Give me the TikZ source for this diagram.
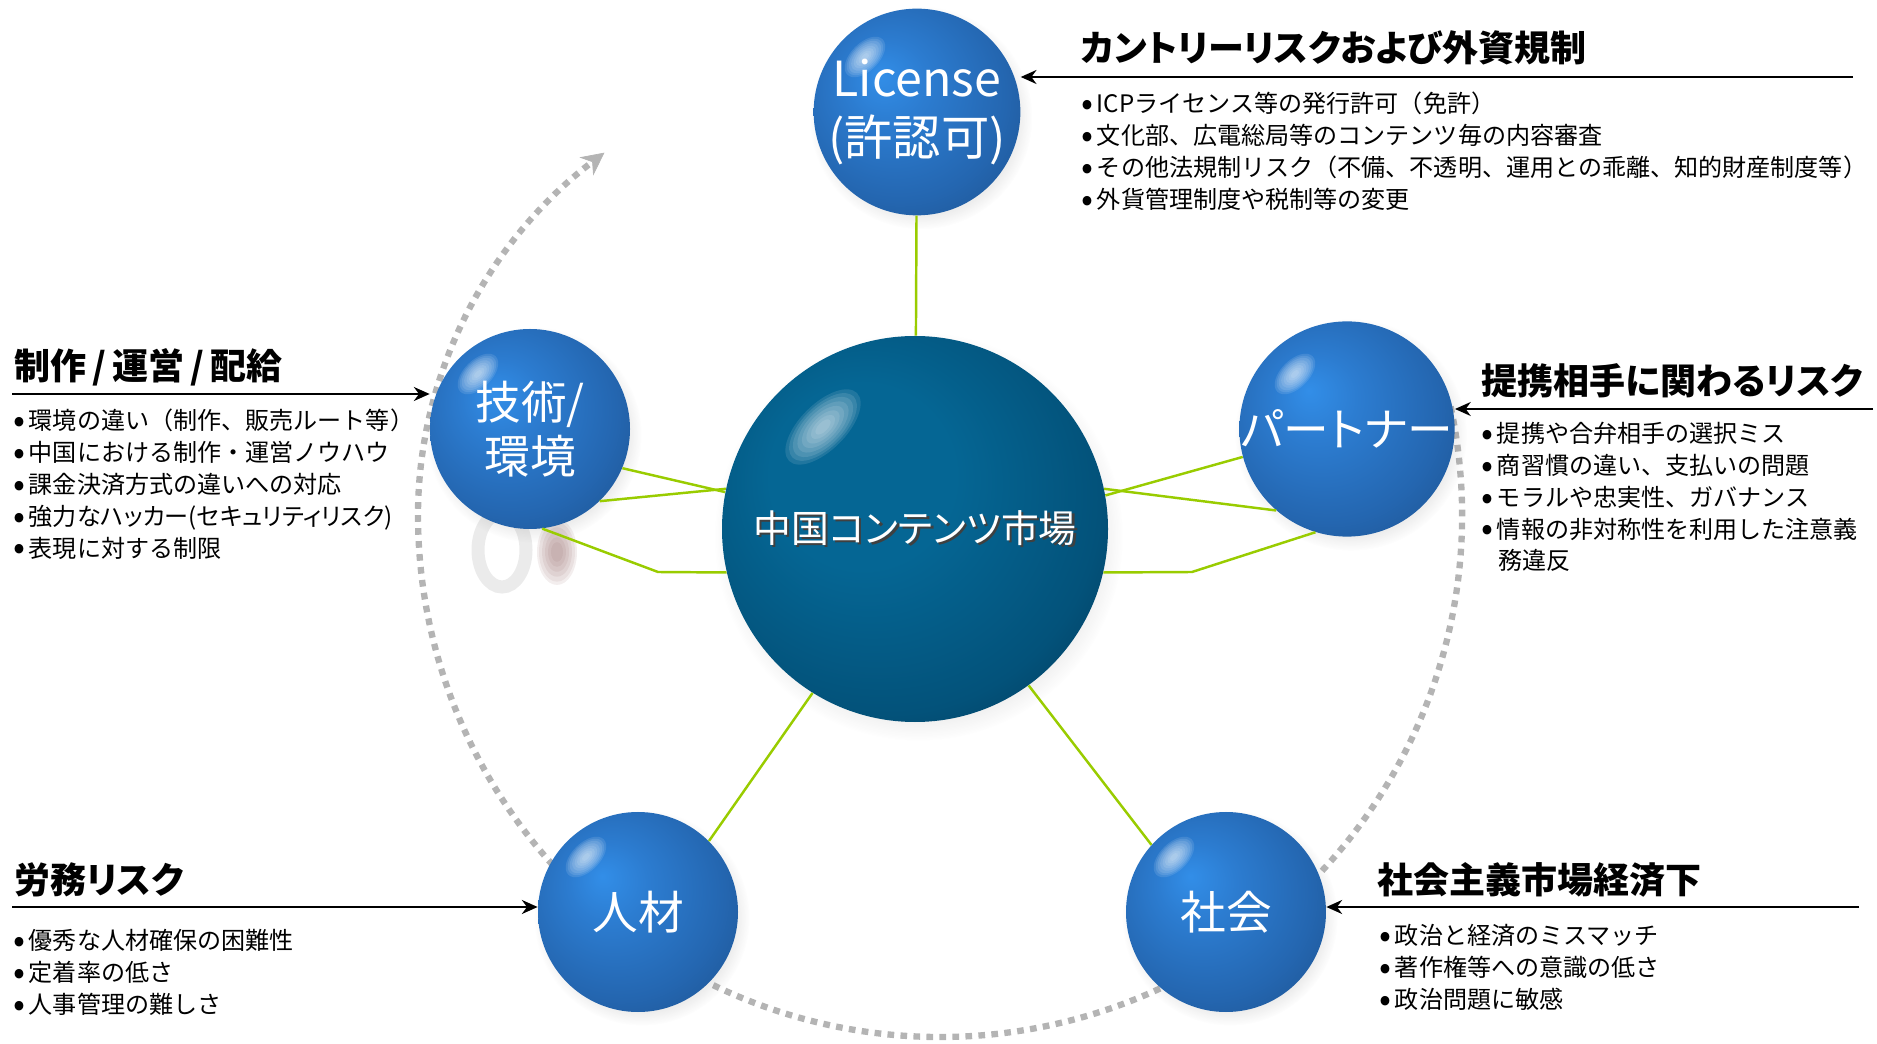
\documentclass[tikz,border=0pt]{standalone}
\usepackage{fontspec}
\setmainfont{Noto Sans CJK JP}
\newfontfamily\jpprop[RawFeature=+palt]{Noto Sans CJK JP}
\usepackage{tikz}
\usetikzlibrary{arrows.meta,shapes,positioning,shadows,fadings}
\usepackage{xcolor}
\definecolor{satlight}{RGB}{50,142,232}
\definecolor{satlight2}{RGB}{44,124,208}
\definecolor{satmid}{RGB}{36,102,176}
\definecolor{satdark}{RGB}{30,84,146}
\definecolor{hublight}{RGB}{5,102,148}
\definecolor{hubmid}{RGB}{3,82,122}
\definecolor{hubdark}{RGB}{1,58,90}
\definecolor{linkgreen}{RGB}{153,204,0}
\definecolor{orbitgray}{RGB}{180,180,180}
\definecolor{ghostbrown}{RGB}{140,92,92}
\pgfdeclareradialshading{satball}{\pgfpoint{-9bp}{9bp}}{color(0bp)=(satlight); color(10bp)=(satlight2); color(26bp)=(satmid); color(37bp)=(satdark); color(50bp)=(satdark)}
\pgfdeclareradialshading{hubball}{\pgfpoint{-9bp}{9bp}}{color(0bp)=(hublight); color(12bp)=(hublight); color(28bp)=(hubmid); color(37bp)=(hubdark); color(50bp)=(hubdark)}
\newcommand{\hubshadow}[1]{\makebox[0pt][l]{\hspace{1.3pt}\raisebox{-1.3pt}{\color{black!75}#1}}#1}
\newcommand{\bul}{\raisebox{-1.6pt}{\fontsize{20}{18}\selectfont •}\hspace{0.15em}}
\tikzstyle{satellite} = [circle, minimum size=40mm, inner sep=0pt, shade, shading=satball, text=white, align=center, font=\jpprop\fontsize{26}{32}\selectfont, circular drop shadow={shadow xshift=2pt, shadow yshift=-3pt, shadow scale=1.08, opacity=0.18, fill=black!45}]
\tikzstyle{hub} = [circle, minimum size=77.2mm, inner sep=0pt, shade, shading=hubball, text=white, font=\jpprop\fontsize{21.5}{26}\selectfont, circular drop shadow={shadow xshift=2pt, shadow yshift=-4pt, shadow scale=1.06, opacity=0.18, fill=black!45}]
\tikzstyle{link} = [line width=1.4pt, color=linkgreen]
\tikzstyle{riskarrow} = [line width=1.1pt, -{Stealth[length=9pt,width=8pt]}]
\tikzstyle{risktitle} = [anchor=west, inner sep=0pt, font=\jpprop\bfseries\fontsize{20.5}{25}\selectfont]
\tikzstyle{risklist} = [anchor=north west, inner sep=0pt, align=left, font=\fontsize{13.7}{18.1}\selectfont]
\tikzstyle{orbit} = [line width=3.6pt, color=orbitgray, dash pattern=on 3.8pt off 3.6pt, -{Stealth[length=13pt,width=13pt,line width=0.4pt]}]
\tikzstyle{sheen} = [fill=white, fill opacity=0.11]

\begin{document}
\begin{tikzpicture}[x=0.2mm, y=0.2mm]
\useasboundingbox (0,0) rectangle (1877,1043);

% Orbit around the market
\draw[orbit] ([shift={(12:522)}]940,528) arc[start angle=12, end angle=-180, radius=522]
  arc[start angle=180, end angle=130, x radius=522, y radius=473];

% Ghost marks behind tech
\draw[black!8, line width=7.4pt] (502,493) ellipse [x radius=24, y radius=37];
\foreach \k in {0.3,0.45,0.6,0.75,0.9,1.0}
  \fill[ghostbrown, fill opacity=0.1] (557,491) ellipse [x radius=20*\k, y radius=33*\k];

% Market and risk spheres
\node (market) [hub] at (915,514) {\hubshadow{中国コンテンツ市場}};
\node (license) [satellite, font=\jpprop\fontsize{27.5}{34}\selectfont] at (917,931) {\raisebox{-4pt}{License}\\\raisebox{-4pt}{(許認可)}};
\node (tech) [satellite, font=\jpprop\fontsize{26}{31}\selectfont] at (530,614) {技術/\\環境};
\node (partner) [satellite] at (1347,614) {パートナー};
\node (staff) [satellite] at (638,131) {人材};
\node (society) [satellite] at (1226,131) {社会};

% Highlights
\foreach \s in {license,tech,partner,staff,society}
  \foreach \k in {0.2,0.32,0.44,0.56,0.68,0.8,0.9,1.0}
    \fill[sheen, shift={(\s.center)}, rotate=45] (2.1,75.7) ellipse [x radius=25*\k, y radius=14*\k];
\foreach \k in {0.2,0.32,0.44,0.56,0.68,0.8,0.9,1.0}
  \fill[sheen, shift={(market.center)}, rotate=45] (7.1,137.2) ellipse [x radius=48*\k, y radius=23*\k];

% Links
\coordinate (bendL) at (658,471);
\coordinate (bendR) at (1192,471);
\draw[link] (license) -- (market);
\draw[link] (tech.-23) -- (market.169);
\draw[link] (tech.-46) -- (market.168);
\draw[link] (tech.-83) -- (bendL) -- (market.193);
\draw[link] (market.10) -- (partner.195);
\draw[link] (market.12) -- (partner.229);
\draw[link] (market.-13) -- (bendR) -- (partner.253);
\draw[link] (staff.45) -- (market.238);
\draw[link] (market.-54) -- (society.138);

% Country risk
\coordinate (a1) at (1853,966);
\node (title1) [risktitle] at (1081,995) {カントリーリスクおよび外資規制};
\draw[riskarrow] (a1) -- (a1 -| license.east);
\node (risk1) [risklist] at (1081,951) {\bul ICPライセンス等の発行許可（免許）\\\bul 文化部、広電総局等のコンテンツ毎の内容審査\\\bul その他法規制リスク（不備、不透明、運用との乖離、知的財産制度等）\\\bul 外貨管理制度や税制等の変更};

% Production
\coordinate (a2) at (12,649);
\node (title2) [risktitle] at (14,676) {制作\,/\,運営\,/\,配給};
\draw[riskarrow] (a2) -- (a2 -| tech.west);
\node (risk2) [risklist] at (13,634) {\bul 環境の違い（制作、販売ルート等）\\\bul 中国における制作・運営ノウハウ\\\bul 課金決済方式の違いへの対応\\\bul {\jpprop 強力なハッカー(セキュリティリスク)}\\\bul 表現に対する制限};

% Partner
\coordinate (a3) at (1873,634);
\node (title3) [risktitle] at (1481,662) {提携相手に関わるリスク};
\draw[riskarrow] (a3) -- (a3 -| partner.east);
\node (risk3) [risklist] at (1481,621) {\bul 提携や合弁相手の選択ミス\\\bul 商習慣の違い、支払いの問題\\\bul モラルや忠実性、ガバナンス\\\bul 情報の非対称性を利用した注意義\\\hspace*{0.72em}務違反};

% Labour
\coordinate (a4) at (12,136);
\node (title4) [risktitle] at (14,163) {労務リスク};
\draw[riskarrow] (a4) -- (a4 -| staff.west);
\node (risk4) [risklist] at (13,114) {\bul 優秀な人材確保の困難性\\\bul 定着率の低さ\\\bul 人事管理の難しさ};

% Society
\coordinate (a5) at (1859,136);
\node (title5) [risktitle] at (1377,163) {社会主義市場経済下};
\draw[riskarrow] (a5) -- (a5 -| society.east);
\node (risk5) [risklist] at (1379,119) {\bul 政治と経済のミスマッチ\\\bul 著作権等への意識の低さ\\\bul 政治問題に敏感};
\end{tikzpicture}
\end{document}
